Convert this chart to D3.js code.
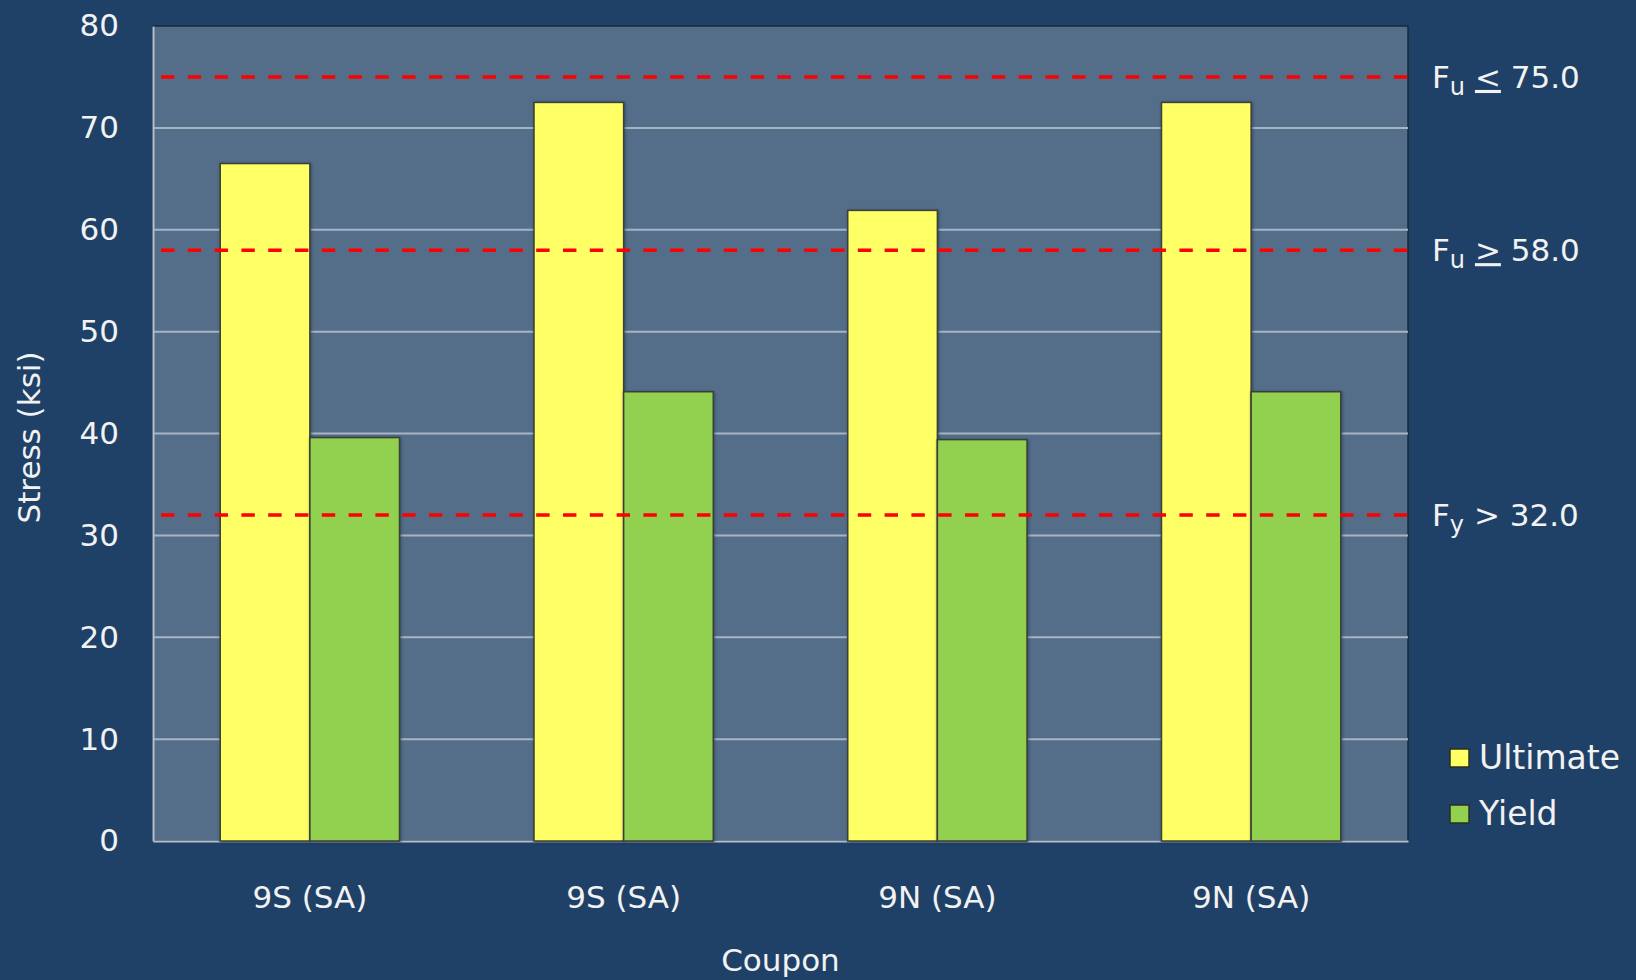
<!DOCTYPE html>
<html>
<head>
<meta charset="utf-8">
<script src="https://cdn.jsdelivr.net/npm/d3@7"></script>
<style>
  html, body { margin: 0; padding: 0; background: #1F4167; }
  svg { display: block; }
</style>
</head>
<body>
<svg id="chart" width="1636" height="980"></svg>
<script>
// Tensile test results per coupon (ksi)
const coupons = ["9S (SA)", "9S (SA)", "9N (SA)", "9N (SA)"];
const seriesNames = ["Ultimate", "Yield"];
const ultimateStress = [66.5, 72.5, 61.9, 72.5];
const yieldStress = [39.6, 44.1, 39.4, 44.1];
const seriesColors = ["#FFFF66", "#92D050"];
const yTicks = [0, 10, 20, 30, 40, 50, 60, 70, 80];

// Specification limits
const limitValues = [75.0, 58.0, 32.0];
const limitSubs = ["u", "u", "y"];
const limitOps = ["<", ">", ">"];
const limitUnderlined = [true, true, false];
const limitLabels = ["75.0", "58.0", "32.0"];

const W = 1636, H = 980;
const plot = { left: 153, right: 1408, top: 26, bottom: 841 };
const FONT = "'DejaVu Sans', Verdana, sans-serif";

const svg = d3.select("#chart");

const defs = svg.append("defs");
const shadow = defs.append("filter").attr("id", "barShadow")
  .attr("x", "-10%").attr("y", "-10%").attr("width", "120%").attr("height", "120%");
shadow.append("feDropShadow").attr("dx", 0.8).attr("dy", 0.8)
  .attr("stdDeviation", 1.6).attr("flood-color", "#1b2c40").attr("flood-opacity", 0.6);

const x0 = d3.scaleBand()
  .domain(d3.range(coupons.length))
  .range([plot.left, plot.right])
  .paddingInner(0).paddingOuter(0);

// two bars per group, gap of 1.5 bar widths between groups
const barW = x0.bandwidth() / 3.5;
const x1 = d3.scaleBand()
  .domain(seriesNames)
  .range([barW * 0.75, barW * 2.75]);

const y = d3.scaleLinear().domain([0, 80]).range([plot.bottom, plot.top]);

// plot background with dark frame
svg.append("rect")
  .attr("x", plot.left).attr("y", plot.top)
  .attr("width", plot.right - plot.left).attr("height", plot.bottom - plot.top)
  .attr("fill", "#546E8A").attr("stroke", "#1a2838").attr("stroke-width", 1.5);

// horizontal gridlines
svg.append("g").selectAll("line")
  .data(yTicks.filter(t => t > 0 && t < 80))
  .join("line")
  .attr("x1", plot.left).attr("x2", plot.right)
  .attr("y1", d => y(d)).attr("y2", d => y(d))
  .attr("stroke", "#A7B4C3").attr("stroke-width", 2);

// y axis
const yAxis = svg.append("g")
  .attr("transform", `translate(${plot.left},0)`)
  .call(d3.axisLeft(y).tickValues(yTicks).tickSize(0).tickPadding(34));
yAxis.select(".domain").attr("stroke", "#B3BFCC").attr("stroke-width", 2);
yAxis.selectAll("text")
  .attr("fill", "#F2F2F2").attr("font-family", FONT).attr("font-size", 31);

// x axis
const xAxis = svg.append("g")
  .attr("transform", `translate(0,${plot.bottom})`)
  .call(d3.axisBottom(x0).tickFormat(i => coupons[i]).tickSize(0).tickPadding(45));
xAxis.select(".domain").attr("stroke", "#B3BFCC").attr("stroke-width", 2);
xAxis.selectAll("text")
  .attr("fill", "#F2F2F2").attr("font-family", FONT).attr("font-size", 31);

// bars
const rows = coupons.map((c, i) => ({ i, values: [ultimateStress[i], yieldStress[i]] }));
svg.append("g").selectAll("g")
  .data(rows)
  .join("g")
  .attr("transform", d => `translate(${x0(d.i)},0)`)
  .selectAll("rect")
  .data(d => d.values.map((v, k) => ({ key: seriesNames[k], v, k })))
  .join("rect")
  .attr("x", d => x1(d.key))
  .attr("width", x1.bandwidth())
  .attr("y", d => y(d.v))
  .attr("height", d => y(0) - y(d.v))
  .attr("fill", d => seriesColors[d.k])
  .attr("stroke", "#3a3f35").attr("stroke-width", 1.5)
  .attr("filter", "url(#barShadow)");

// specification limit lines
svg.append("g").selectAll("line")
  .data(limitValues)
  .join("line")
  .attr("x1", plot.left).attr("x2", plot.right)
  .attr("y1", d => y(d)).attr("y2", d => y(d))
  .attr("stroke", "#FF0000").attr("stroke-width", 3.5)
  .attr("stroke-dasharray", "13.4,13.4").attr("stroke-dashoffset", 18.8);

// limit labels
const lab = svg.append("g").selectAll("text")
  .data(limitValues.map((v, i) => ({ v, i })))
  .join("text")
  .attr("x", plot.right + 24)
  .attr("y", d => y(d.v) + 11)
  .attr("fill", "#F2F2F2").attr("font-family", FONT).attr("font-size", 31);
lab.append("tspan").text("F");
lab.append("tspan").text(d => limitSubs[d.i])
  .attr("font-size", 24).attr("dy", 7);
lab.append("tspan").text(" ").attr("dy", -7);
lab.append("tspan").text(d => limitOps[d.i])
  .attr("text-decoration", d => limitUnderlined[d.i] ? "underline" : null);
lab.append("tspan").text(d => " " + limitLabels[d.i]);

// axis titles
svg.append("text")
  .attr("x", (plot.left + plot.right) / 2).attr("y", 971)
  .attr("text-anchor", "middle")
  .attr("fill", "#F2F2F2").attr("font-family", FONT).attr("font-size", 31)
  .text("Coupon");
svg.append("text")
  .attr("transform", `translate(40,${(plot.top + plot.bottom) / 2 + 4}) rotate(-90)`)
  .attr("text-anchor", "middle")
  .attr("fill", "#F2F2F2").attr("font-family", FONT).attr("font-size", 31)
  .text("Stress (ksi)");

// legend
const legend = svg.append("g").selectAll("g")
  .data(seriesNames)
  .join("g")
  .attr("transform", (d, i) => `translate(1450,${749 + i * 56})`);
legend.append("rect")
  .attr("width", 19).attr("height", 18)
  .attr("fill", (d, i) => seriesColors[i])
  .attr("stroke", "#2a2f25").attr("stroke-width", 1.5);
legend.append("text")
  .attr("x", 29).attr("y", 20)
  .attr("fill", "#F2F2F2").attr("font-family", FONT).attr("font-size", 33)
  .text(d => d);
</script>
</body>
</html>
